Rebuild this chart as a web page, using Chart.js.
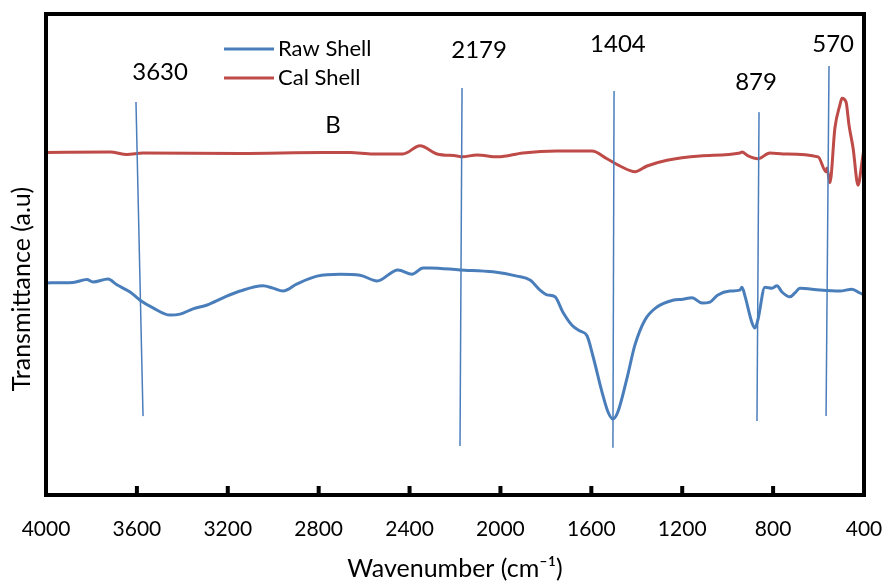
<!DOCTYPE html>
<html lang="en">
<head>
<meta charset="UTF-8">
<title>FTIR - Raw Shell / Cal Shell</title>
<script src="https://cdn.jsdelivr.net/npm/chart.js"></script>
<style>
  body { margin: 0; background: #fff; }
  canvas { display: block; }
</style>
</head>
<body>
<canvas id="ftirChart" width="883" height="584"></canvas>
<script>
// x ticks (wavenumber, cm-1)
const xTicks = [4000, 3600, 3200, 2800, 2400, 2000, 1600, 1200, 800, 400];

// Raw Shell spectrum (wavenumber, transmittance a.u.)
const rawWn = [4000, 3881, 3820, 3793, 3727, 3688, 3630, 3586, 3529, 3454, 3410, 3353, 3291, 3221, 3146,
  3045, 3001, 2957, 2895, 2807, 2706, 2618, 2543, 2451, 2389, 2341, 2310, 2178, 2033, 1927, 1870, 1826,
  1795, 1760, 1725, 1685, 1650, 1619, 1593, 1553, 1527, 1505, 1483, 1443, 1408, 1364, 1311, 1241, 1197,
  1157, 1113, 1078, 1043, 990, 946, 937, 924, 893, 880, 867, 836, 805, 783, 761, 726, 704, 682, 594,
  506, 453, 418, 400];
const rawT = [44.1, 44.2, 44.8, 44.3, 44.9, 43.7, 42.2, 40.5, 38.9, 37.4, 37.6, 38.7, 39.5, 41.0, 42.4,
  43.5, 43.0, 42.4, 43.9, 45.5, 45.9, 45.7, 44.5, 46.8, 45.9, 47.2, 47.2, 46.8, 46.4, 45.5, 44.7, 42.6,
  41.6, 41.2, 38.0, 35.3, 34.1, 33.1, 28.9, 21.4, 17.3, 15.8, 17.3, 24.3, 31.2, 36.4, 39.1, 40.5, 40.7,
  41.0, 39.9, 40.1, 41.6, 42.4, 42.6, 43.2, 41.4, 35.8, 34.7, 36.4, 43.2, 43.0, 43.5, 42.2, 41.2, 42.0,
  43.0, 42.6, 42.4, 42.8, 42.0, 41.6];

// Cal Shell spectrum
const calWn = [4000, 3718, 3644, 3573, 3146, 2781, 2662, 2561, 2429, 2354, 2279, 2191, 2169, 2103, 2011,
  1901, 1751, 1597, 1531, 1474, 1408, 1355, 1267, 1122, 946, 937, 910, 867, 814, 756, 602, 567, 563,
  550, 528, 506, 497, 479, 466, 448, 426, 409, 400];
const calT = [71.2, 71.3, 70.8, 71.1, 71.0, 71.2, 71.2, 70.9, 70.9, 72.6, 70.9, 70.5, 70.3, 70.7, 70.3,
  71.1, 71.5, 71.5, 69.9, 68.4, 67.2, 68.4, 69.6, 70.5, 71.1, 71.3, 70.5, 69.9, 71.1, 70.9, 70.3, 67.2, 68.0,
  64.9, 76.3, 81.1, 82.5, 81.7, 76.9, 72.1, 64.4, 69.2, 72.1];

// peak marker lines (top end / bottom end)
const peakTopWn = [3604, 2169, 1500, 862, 554];
const peakTopT = [81.7, 84.6, 84.0, 79.6, 89.2];
const peakBotWn = [3573, 2178, 1505, 871, 567];
const peakBotT = [16.4, 10.2, 9.8, 15.4, 16.4];

// text labels on the plot
const labelText = ['3630', 'B', '2179', '1404', '879', '570'];
const labelWn = [3498, 2737, 2094, 1483, 875, 536];
const labelT = [87.9, 76.9, 92.5, 93.8, 85.9, 93.8];

const BLUE = '#4a7ebb';
const RED = '#be4b48';
const FONT = 'Lato, "Liberation Sans", sans-serif';

const zip = (xs, ys) => xs.map((v, i) => ({ x: v, y: ys[i] }));

const markerSets = peakTopWn.map((w, i) => ({
  data: [{ x: w, y: peakTopT[i] }, { x: peakBotWn[i], y: peakBotT[i] }],
  borderColor: BLUE,
  borderWidth: 1.5,
  showLine: true,
  pointRadius: 0,
  order: 0
}));

const overlay = {
  id: 'overlay',
  afterDatasetsDraw(chart) {
    const { ctx, chartArea: a, scales: { x, y } } = chart;
    ctx.save();
    ctx.fillStyle = '#000';
    ctx.textAlign = 'center';
    ctx.textBaseline = 'middle';
    ctx.font = '24px ' + FONT;
    labelText.forEach((t, i) => {
      ctx.fillText(t, x.getPixelForValue(labelWn[i]), y.getPixelForValue(labelT[i]));
    });

    // legend
    ctx.font = '22px ' + FONT;
    ctx.textAlign = 'left';
    ctx.lineWidth = 3;
    [['Raw Shell', BLUE, 49], ['Cal Shell', RED, 78]].forEach(([t, c, ly]) => {
      ctx.strokeStyle = c;
      ctx.beginPath();
      ctx.moveTo(224, ly);
      ctx.lineTo(274, ly);
      ctx.stroke();
      ctx.fillText(t, 278, ly);
    });

    // frame + inward ticks
    ctx.strokeStyle = '#000';
    ctx.lineWidth = 4;
    ctx.strokeRect(a.left, a.top, a.width, a.height);
    xTicks.forEach(v => {
      const px = x.getPixelForValue(v);
      ctx.fillRect(px - 2, a.bottom - 9, 4, 9);
    });

    // y title
    ctx.font = '25px ' + FONT;
    ctx.textAlign = 'center';
    ctx.translate(22, 289);
    ctx.rotate(-Math.PI / 2);
    ctx.fillText('Transmittance (a.u)', 0, 0);
    ctx.restore();
  }
};

new Chart(document.getElementById('ftirChart'), {
  type: 'scatter',
  data: {
    datasets: [
      ...markerSets,
      {
        label: 'Raw Shell',
        data: zip(rawWn, rawT),
        borderColor: BLUE,
        borderWidth: 3,
        showLine: true,
        pointRadius: 0,
        cubicInterpolationMode: 'monotone',
        order: 2
      },
      {
        label: 'Cal Shell',
        data: zip(calWn, calT),
        borderColor: RED,
        borderWidth: 3,
        showLine: true,
        pointRadius: 0,
        cubicInterpolationMode: 'monotone',
        order: 1
      }
    ]
  },
  options: {
    responsive: false,
    animation: false,
    layout: { padding: { left: 46, top: 14, right: 19, bottom: 0 } },
    plugins: { legend: { display: false }, tooltip: { enabled: false } },
    scales: {
      x: {
        type: 'linear',
        reverse: true,
        min: 400,
        max: 4000,
        afterFit(scale) {
          scale.height = 89;
          scale.paddingLeft = 0;
          scale.paddingRight = 0;
        },
        afterBuildTicks(scale) {
          scale.ticks = xTicks.map(v => ({ value: v }));
        },
        grid: { display: true, drawOnChartArea: false, drawTicks: false },
        border: { display: false },
        ticks: {
          autoSkip: false,
          maxRotation: 0,
          padding: 22,
          color: '#000',
          font: { family: FONT, size: 21 },
          callback: v => String(v)
        },
        title: {
          display: true,
          text: 'Wavenumber (cm⁻¹)',
          color: '#000',
          padding: 0,
          font: { family: FONT, size: 25 }
        }
      },
      y: {
        display: false,
        min: 0,
        max: 100
      }
    }
  },
  plugins: [overlay]
});
</script>
</body>
</html>
